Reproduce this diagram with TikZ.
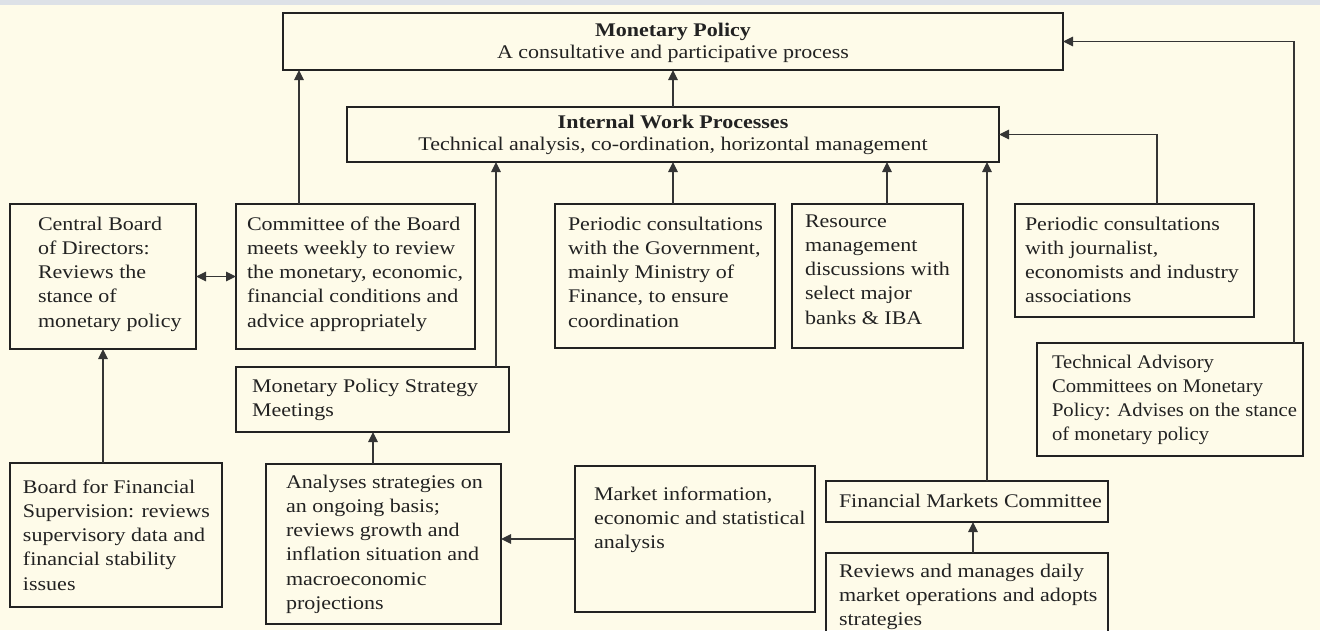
\documentclass[tikz,border=0pt]{standalone}
\usepackage{fontspec}
\setmainfont{Liberation Serif}[FakeStretch=1.14]
\newfontfamily\narrowserif{Liberation Serif}[FakeStretch=1.07]
\usetikzlibrary{arrows.meta}

\definecolor{paper}{HTML}{FEFBE9}
\definecolor{band}{HTML}{DDE1E7}
\definecolor{ink}{HTML}{222222}
\definecolor{wire}{HTML}{353535}

\tikzset{
  frame/.style={draw=ink, line width=1.25pt, inner sep=0pt, outer sep=0pt, anchor=north west},
  boxtext/.style={anchor=north west, inner sep=0pt, outer sep=0pt, align=left, text=ink,
    font=\fontsize{19.3}{24.3}\selectfont},
  headtext/.style={anchor=north, inner sep=0pt, outer sep=0pt, align=center, text=ink,
    font=\fontsize{19.3}{22.5}\selectfont},
  tip/.tip={Triangle[length=10pt,width=9.5pt]},
  link/.style={draw=wire, line width=1.2pt, -tip},
  twolink/.style={draw=wire, line width=1.2pt, tip-tip},
}

\begin{document}
\begin{tikzpicture}[x=1pt,y=-1pt]
  % page
  \fill[paper] (0,0) rectangle (1320,630);
  \fill[band] (0,0) rectangle (1320,5);
  \useasboundingbox (0,0) rectangle (1320,630);

  % frames
  \node[frame, minimum width=780pt, minimum height=57pt]  (mp)   at (283,13)  {};
  \node[frame, minimum width=652pt, minimum height=55pt]  (iwp)  at (347,107) {};
  \node[frame, minimum width=186pt, minimum height=145pt] (cb)   at (10,204)  {};
  \node[frame, minimum width=239pt, minimum height=145pt] (cob)  at (236,204) {};
  \node[frame, minimum width=220pt, minimum height=144pt] (gov)  at (555,204) {};
  \node[frame, minimum width=171pt, minimum height=144pt] (res)  at (792,204) {};
  \node[frame, minimum width=239pt, minimum height=113pt] (jou)  at (1015,204) {};
  \node[frame, minimum width=266pt, minimum height=113pt] (tac)  at (1037,343) {};
  \node[frame, minimum width=273pt, minimum height=65pt]  (mpsm) at (236,367) {};
  \node[frame, minimum width=212pt, minimum height=144pt] (bfs)  at (10,463)  {};
  \node[frame, minimum width=235pt, minimum height=160pt] (ana)  at (266,464) {};
  \node[frame, minimum width=240pt, minimum height=146pt] (mkt)  at (575,466) {};
  \node[frame, minimum width=282pt, minimum height=41pt]  (fmc)  at (826,481) {};
  \node[frame, minimum width=282pt, minimum height=100pt] (rev)  at (826,553) {};

  % texts
  \node[headtext] (mpt) at (673,20.5)
    {\strut\textbf{Monetary Policy}\\A consultative and participative process};
  \node[headtext] (iwpt) at (673,112.5)
    {\strut\textbf{Internal Work Processes}\\Technical analysis, co-ordination, horizontal management};
  \node[boxtext] (cbt) at (38,213)
    {\strut Central Board\\of Directors:\\Reviews the\\stance of\\monetary policy};
  \node[boxtext] (cobt) at (247,213)
    {\strut Committee of the Board\\meets weekly to review\\the monetary, economic,\\financial conditions and\\advice appropriately};
  \node[boxtext] (govt) at (568,213)
    {\strut Periodic consultations\\with the Government,\\mainly Ministry of\\Finance, to ensure\\coordination};
  \node[boxtext] (rest) at (805,210)
    {\strut Resource\\management\\discussions with\\select major\\banks \& IBA};
  \node[boxtext] (jout) at (1025,213)
    {\strut Periodic consultations\\with journalist,\\economists and industry\\associations};
  \node[boxtext, font=\narrowserif\fontsize{19.3}{24.3}\selectfont] (tact) at (1052,351)
    {\strut Technical Advisory\\Committees on Monetary\\Policy: Advises on the stance\\of monetary policy};
  \node[boxtext] (mpsmt) at (252,375)
    {\strut Monetary Policy Strategy\\Meetings};
  \node[boxtext] (bfst) at (23,476)
    {\strut Board for Financial\\Supervision: reviews\\supervisory data and\\financial stability\\issues};
  \node[boxtext] (anat) at (286,471)
    {\strut Analyses strategies on\\an ongoing basis;\\reviews growth and\\inflation situation and\\macroeconomic\\projections};
  \node[boxtext] (mktt) at (594,483)
    {\strut Market information,\\economic and statistical\\analysis};
  \node[boxtext] (fmct) at (839,490)
    {\strut Financial Markets Committee};
  \node[boxtext] (revt) at (839,560)
    {\strut Reviews and manages daily\\market operations and adopts\\strategies};

  % connectors
  \draw[link] ([xshift=63pt]cob.north west) -- ([xshift=16pt]mp.south west);
  \draw[link] (iwp.north) -- (iwp.north |- mp.south);
  \draw[link] ([xshift=260pt]mpsm.north west) -- ([xshift=149pt]iwp.south west);
  \draw[link] ([xshift=118pt]gov.north west) -- (iwp.south);
  \draw[link] ([xshift=95pt]res.north west) -- ([xshift=540pt]iwp.south west);
  \draw[link] ([xshift=161pt]fmc.north west) -- ([xshift=640pt]iwp.south west);
  \draw[link] ([xshift=142pt]jou.north west) |- (iwp.east);
  \draw[link] ([xshift=257pt]tac.north west) |- (mp.east);
  \draw[twolink] (cb.east) -- (cob.west);
  \draw[link] ([xshift=93pt]bfs.north west) -- ([xshift=93pt]cb.south west);
  \draw[link] ([xshift=107pt]ana.north west) -- ([xshift=137pt]mpsm.south west);
  \draw[link] (mkt.west) -- (mkt.west -| ana.east);
  \draw[link] ([xshift=147pt]rev.north west) -- ([xshift=147pt]fmc.south west);
\end{tikzpicture}
\end{document}
